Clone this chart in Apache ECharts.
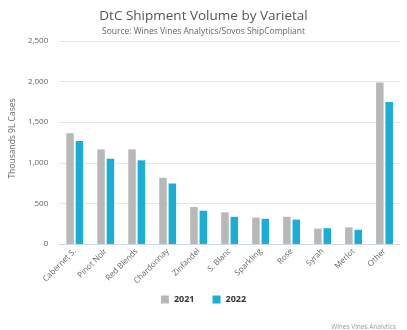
<!DOCTYPE html>
<html><head><meta charset="utf-8">
<script src="https://cdn.jsdelivr.net/npm/echarts@6/dist/echarts.min.js"></script>
<style>html,body{margin:0;padding:0;background:#fff}#c{width:407px;height:330px}</style>
</head><body><div id="c"></div>
<script>
var categories = ["Cabernet S.","Pinot Noir","Red Blends","Chardonnay","Zinfandel","S. Blanc","Sparkling","Rose","Syrah","Merlot","Other"];
var values2021 = [1365,1165,1165,815,455,390,325,335,190,205,1990];
var values2022 = [1270,1050,1030,745,410,335,310,300,195,175,1750];
var yTicks = [0,500,1000,1500,2000,2500];

var chart = echarts.init(document.getElementById('c'));
var font = '"Open Sans", "Noto Sans", sans-serif';
chart.setOption({
  animation:false,
  textStyle:{fontFamily:font},
  title:[{text:'DtC Shipment Volume by Varietal',left:'center',top:4,
    textStyle:{fontSize:13.5,fontWeight:'normal',color:'#555',fontFamily:font}},
    {text:'Source: Wines Vines Analytics/Sovos ShipCompliant',left:'center',top:22,
    textStyle:{fontSize:8.5,fontWeight:'normal',color:'#666',fontFamily:font}},
    {text:'Wines Vines Analytics',right:6,top:319,
    textStyle:{fontSize:6.5,fontWeight:'normal',color:'#999',fontFamily:font}}],
  legend:{bottom:21,left:'center',itemWidth:8,itemHeight:8,itemGap:18,icon:'rect',
    textStyle:{fontSize:9,fontWeight:'bold',color:'#333',fontFamily:font}},
  grid:{left:55,right:7,top:41,bottom:86,containLabel:false},
  xAxis:{type:'category',data:categories,
    axisLine:{lineStyle:{color:'#ccd6eb'}},axisTick:{show:false},
    axisLabel:{rotate:45,fontSize:8,color:'#666',interval:0,margin:6,fontFamily:font}},
  yAxis:{type:'value',min:yTicks[0],max:yTicks[yTicks.length-1],interval:500,
    name:'Thousands 9L Cases',nameLocation:'middle',nameGap:40,nameRotate:90,
    nameTextStyle:{fontSize:8.5,color:'#666',fontFamily:font,padding:[0,0,0,8]},
    axisLabel:{fontSize:8,color:'#666',margin:11,fontFamily:font,
      formatter:function(v){return v.toLocaleString('en-US');}},
    splitLine:{lineStyle:{color:'#e6e6e6'}},axisLine:{show:false},axisTick:{show:false}},
  series:[
    {name:'2021',type:'bar',data:values2021,barWidth:7.5,barGap:'25%',itemStyle:{color:'#b8b8b8'}},
    {name:'2022',type:'bar',data:values2022,barWidth:7.5,itemStyle:{color:'#1aaed6'}}
  ]
});
</script></body></html>
